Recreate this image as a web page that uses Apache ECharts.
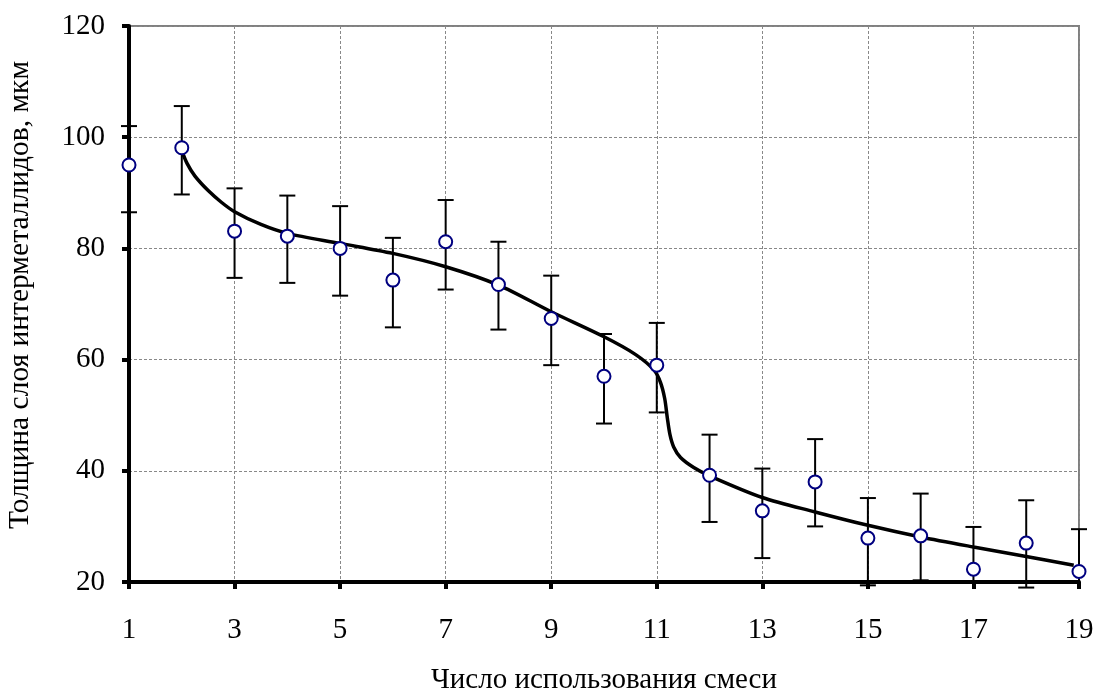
<!DOCTYPE html>
<html>
<head>
<meta charset="utf-8">
<script src="https://cdn.jsdelivr.net/npm/echarts@6/dist/echarts.min.js"></script>
<style>
  html, body { margin: 0; padding: 0; background: #fff; }
  #chart { width: 1097px; height: 691px; }
</style>
</head>
<body>
<div id="chart"></div>
<script>
// measured values: number of uses vs intermetallic layer thickness
var uses = [1, 2, 3, 4, 5, 6, 7, 8, 9, 10, 11, 12, 13, 14, 15, 16, 17, 18, 19];
var thickness = [95.0, 98.1, 83.1, 82.2, 80.0, 74.3, 81.2, 73.5, 67.4, 57.0, 59.0, 39.2, 32.8, 38.0, 27.9, 28.3, 22.3, 27.0, 21.9];
var errHigh = [102.0, 105.6, 90.8, 89.5, 87.6, 81.9, 88.7, 81.2, 75.1, 64.6, 66.6, 46.5, 40.4, 45.7, 35.1, 35.9, 29.9, 34.7, 29.5];
var errLow = [86.5, 89.7, 74.7, 73.8, 71.5, 65.8, 72.6, 65.4, 59.0, 48.5, 50.5, 30.8, 24.3, 30.0, 19.4, 20.3, 14.7, 19.0, 14.3];

// fitted trend curve
var fitX = [2, 2.1, 2.25, 2.5, 2.75, 3, 3.5, 4, 5, 6, 7, 8, 9, 10, 10.6, 10.95, 11.07, 11.15, 11.2, 11.25, 11.32, 11.45, 11.7, 12, 13, 14, 15, 16, 17, 18, 18.9];
var fitY = [97.6, 95.3, 93.0, 90.4, 88.3, 86.6, 84.3, 82.7, 80.9, 79.1, 76.7, 73.4, 68.6, 64.1, 60.9, 58.1, 55.9, 53.0, 49.5, 46.5, 44.3, 42.4, 40.6, 39.1, 35.2, 32.6, 30.2, 28.1, 26.3, 24.6, 23.0];

var yTicks = [20, 40, 60, 80, 100, 120];
var xTicks = [1, 3, 5, 7, 9, 11, 13, 15, 17, 19];

var yMin = yTicks[0];
var font = '"Liberation Serif", "Times New Roman", serif';

var chart = echarts.init(document.getElementById('chart'));

function renderErr(params, api) {
  var x = api.value(0);
  var lo = api.value(1);
  var hi = api.value(2);
  var top = api.coord([x, hi]);
  var bot = api.coord([x, Math.max(lo, yMin)]);
  var hw = 8;
  var st = { stroke: '#000', lineWidth: 2 };
  var kids = [
    { type: 'line', shape: { x1: top[0], y1: top[1], x2: bot[0], y2: bot[1] }, style: st },
    { type: 'line', shape: { x1: top[0] - hw, y1: top[1], x2: top[0] + hw, y2: top[1] }, style: st }
  ];
  // lower cap only if the bar ends near the axis, otherwise it is cut off
  if (lo >= yMin - 1.5) {
    var b = api.coord([x, lo]);
    kids.push({ type: 'line', shape: { x1: b[0], y1: bot[1], x2: b[0], y2: b[1] }, style: st });
    kids.push({ type: 'line', shape: { x1: b[0] - hw, y1: b[1], x2: b[0] + hw, y2: b[1] }, style: st });
  }
  return { type: 'group', children: kids };
}

var option = {
  backgroundColor: '#fff',
  animation: false,
  grid: {
    left: 129,
    right: 18,
    top: 26,
    bottom: 109,
    outerBoundsMode: 'none',
    containLabel: false,
    show: true,
    borderColor: '#808080',
    borderWidth: 2
  },
  xAxis: {
    type: 'value',
    min: xTicks[0],
    max: xTicks[xTicks.length - 1],
    interval: 2,
    name: 'Число использования смеси',
    nameLocation: 'middle',
    nameGap: 84,
    nameTextStyle: { fontFamily: font, fontSize: 29, color: '#000' },
    axisLine: { show: true, onZero: false, lineStyle: { color: '#000', width: 4 } },
    axisTick: { show: true, length: 7, lineStyle: { color: '#000', width: 4 } },
    axisLabel: { fontFamily: font, fontSize: 29, color: '#000', margin: 34 },
    splitLine: { show: true, lineStyle: { color: '#888', width: 1, type: [3, 2] } }
  },
  yAxis: {
    type: 'value',
    min: yMin,
    max: yTicks[yTicks.length - 1],
    interval: 20,
    name: 'Толщина слоя интерметаллидов, мкм',
    nameLocation: 'middle',
    nameGap: 94,
    nameTextStyle: { fontFamily: font, fontSize: 29.5, color: '#000', padding: [0, 0, 0, 18] },
    axisLine: { show: true, lineStyle: { color: '#000', width: 4 } },
    axisTick: { show: true, length: 7, lineStyle: { color: '#000', width: 4 } },
    axisLabel: { fontFamily: font, fontSize: 29, color: '#000', margin: 24 },
    splitLine: { show: true, lineStyle: { color: '#888', width: 1, type: [3, 2] } }
  },
  series: [
    {
      type: 'custom',
      renderItem: renderErr,
      clip: false,
      z: 3,
      data: uses.map(function (u, i) { return [u, errLow[i], errHigh[i]]; })
    },
    {
      type: 'line',
      smooth: 0.3,
      showSymbol: false,
      z: 4,
      lineStyle: { color: '#000', width: 3.5 },
      data: fitX.map(function (x, i) { return [x, fitY[i]]; })
    },
    {
      type: 'scatter',
      symbol: 'circle',
      symbolSize: 13,
      clip: false,
      z: 5,
      itemStyle: { color: '#fff', borderColor: '#000080', borderWidth: 2, opacity: 1 },
      data: uses.map(function (u, i) { return [u, thickness[i]]; })
    }
  ]
};

chart.setOption(option);
</script>
</body>
</html>
